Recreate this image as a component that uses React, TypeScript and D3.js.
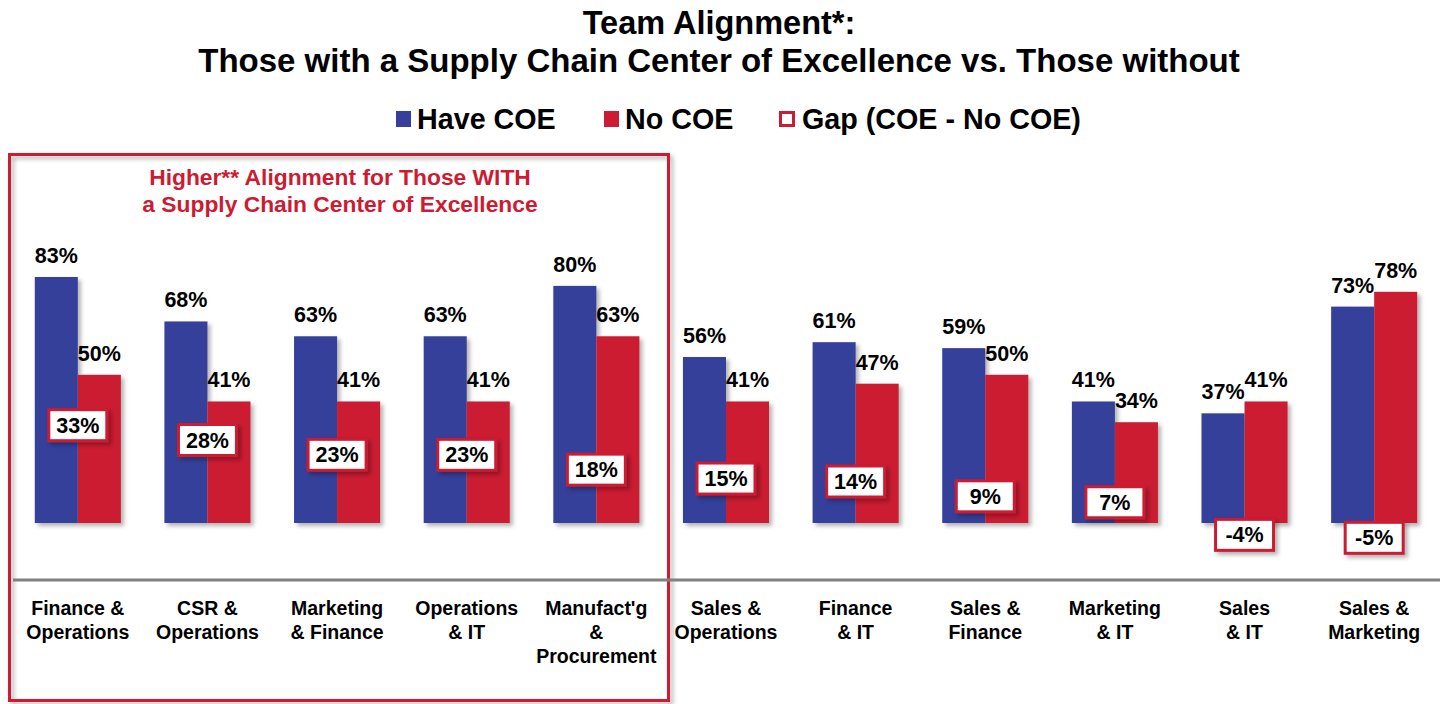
import React from "react";
import * as d3 from "d3";

const categories = [
  "Finance & Operations",
  "CSR & Operations",
  "Marketing & Finance",
  "Operations & IT",
  "Manufact'g & Procurement",
  "Sales & Operations",
  "Finance & IT",
  "Sales & Finance",
  "Marketing & IT",
  "Sales & IT",
  "Sales & Marketing",
];
const categoryLines = [
  ["Finance &", "Operations"],
  ["CSR &", "Operations"],
  ["Marketing", "& Finance"],
  ["Operations", "& IT"],
  ["Manufact'g", "&", "Procurement"],
  ["Sales &", "Operations"],
  ["Finance", "& IT"],
  ["Sales &", "Finance"],
  ["Marketing", "& IT"],
  ["Sales", "& IT"],
  ["Sales &", "Marketing"],
];
const haveCOE = [83, 68, 63, 63, 80, 56, 61, 59, 41, 37, 73];
const noCOE = [50, 41, 41, 41, 63, 41, 47, 50, 34, 41, 78];
const gapValues = [33, 28, 23, 23, 18, 15, 14, 9, 7, -4, -5];

const BLUE = "#36409B";
const RED = "#CC1B32";
const FONT = "'Liberation Sans', Arial, sans-serif";

export default function App() {
  const W = 1440;
  const H = 704;
  const x = d3
    .scaleBand<string>()
    .domain(categories)
    .range([13, 1439])
    .paddingInner(0.336)
    .paddingOuter(0.168);
  const y = d3.scaleLinear().domain([0, 100]).range([523, 226.6]);
  const bw = x.bandwidth() / 2;

  return (
    <svg
      width={W}
      height={H}
      style={{ position: "absolute", left: 0, top: 0, background: "#fff" }}
      fontFamily={FONT}
    >
      <defs>
        <filter id="sh" x="-20%" y="-20%" width="150%" height="150%">
          <feDropShadow dx="3" dy="3" stdDeviation="2" floodColor="#000" floodOpacity="0.3" />
        </filter>
      </defs>

      {/* Title */}
      <text x={719} y={34} textAnchor="middle" fontSize={32.5} fontWeight="bold">
        Team Alignment*:
      </text>
      <text x={719} y={72} textAnchor="middle" fontSize={33} fontWeight="bold">
        Those with a Supply Chain Center of Excellence vs. Those without
      </text>

      {/* Legend */}
      <g fontSize={28.7} fontWeight="bold">
        <rect x={396} y={111} width={15} height={16} fill={BLUE} />
        <text x={417} y={129}>Have COE</text>
        <rect x={604} y={111} width={15} height={16} fill={RED} />
        <text x={625} y={129}>No COE</text>
        <rect x={780.5} y={112.5} width={13} height={13} fill="#fff" stroke={RED} strokeWidth={3} />
        <text x={802} y={129}>Gap (COE - No COE)</text>
      </g>

      {/* Highlight box */}
      <rect
        x={9.5}
        y={154.5}
        width={659}
        height={546}
        fill="none"
        stroke={RED}
        strokeWidth={3}
        filter="url(#sh)"
      />
      <g fill={RED} fontSize={22.8} fontWeight="bold" textAnchor="middle">
        <text x={340} y={185}>Higher** Alignment for Those WITH</text>
        <text x={340} y={212}>a Supply Chain Center of Excellence</text>
      </g>

      {/* Bars */}
      <g filter="url(#sh)">
        {categories.map((c, i) => (
          <g key={c}>
            <rect x={x(c)!} y={y(haveCOE[i])} width={bw} height={y(0) - y(haveCOE[i])} fill={BLUE} />
            <rect x={x(c)! + bw} y={y(noCOE[i])} width={bw} height={y(0) - y(noCOE[i])} fill={RED} />
          </g>
        ))}
      </g>

      {/* Value labels */}
      <g fontSize={21.5} fontWeight="bold" textAnchor="middle">
        {categories.map((c, i) => (
          <g key={c}>
            <text x={x(c)! + bw / 2} y={y(haveCOE[i]) - 14}>{haveCOE[i]}%</text>
            <text x={x(c)! + bw * 1.5} y={y(noCOE[i]) - 14}>{noCOE[i]}%</text>
          </g>
        ))}
      </g>

      {/* Gap boxes */}
      {categories.map((c, i) => {
        const cx = x(c)! + bw;
        const cy = y(gapValues[i]);
        return (
          <g key={c}>
            <rect
              x={cx - 29}
              y={cy - 15.5}
              width={58}
              height={31}
              fill="#fff"
              stroke={RED}
              strokeWidth={3}
              filter="url(#sh)"
            />
            <text x={cx} y={cy + 7.5} textAnchor="middle" fontSize={21.5} fontWeight="bold">
              {gapValues[i]}%
            </text>
          </g>
        );
      })}

      {/* Axis line */}
      <line x1={13} x2={1440} y1={580} y2={580} stroke="#808080" strokeWidth={3} />

      {/* Category labels */}
      <g fontSize={19.5} fontWeight="bold" textAnchor="middle">
        {categories.map((c, i) => (
          <text key={c} x={x(c)! + bw} y={615}>
            {categoryLines[i].map((l, j) => (
              <tspan key={j} x={x(c)! + bw} dy={j === 0 ? 0 : 24}>
                {l}
              </tspan>
            ))}
          </text>
        ))}
      </g>
    </svg>
  );
}
